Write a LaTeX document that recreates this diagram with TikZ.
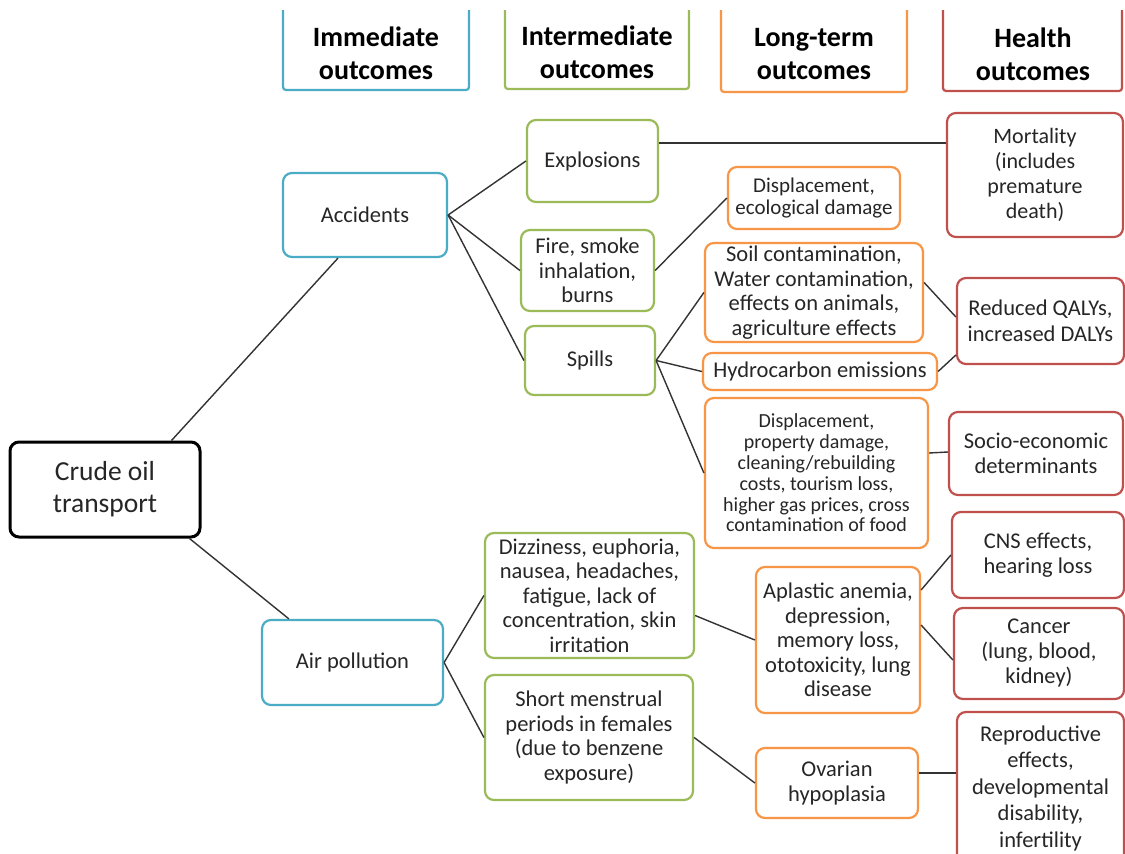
\documentclass[tikz,border=0pt]{standalone}
\usepackage{fontspec}
\setmainfont{Carlito}
\usetikzlibrary{calc}
\definecolor{aquac}{HTML}{4BACC6}
\definecolor{greenc}{HTML}{9BBB59}
\definecolor{orangec}{HTML}{F79646}
\definecolor{redc}{HTML}{C0504D}
\definecolor{textc}{HTML}{262626}
\definecolor{linec}{HTML}{333333}
\tikzset{
  bx/.style={draw, rounded corners=9pt, line width=2.2pt, align=center, inner sep=0pt,
    text=textc, font=\fontsize{22.5}{24.5}\selectfont},
  imm/.style={bx, draw=aquac},
  inter/.style={bx, draw=greenc},
  longt/.style={bx, draw=orangec},
  health/.style={bx, draw=redc},
  hdr/.style={align=center, inner sep=0pt, text=black, font=\fontsize{28}{33}\selectfont\bfseries},
  hline/.style={line width=2.2pt, rounded corners=3pt},
  conn/.style={draw=linec, line width=1.4pt},
}
\begin{document}
\begin{tikzpicture}[x=1pt,y=-1pt]
\clip (0,0) rectangle (1125,854);
\fill[white] (0,0) rectangle (1125,854);
% headers
\draw[hline, aquac] (283,10) |- (469,90) -- (469,10);
\node[hdr] (himm) at (376,53) {Immediate\\outcomes};
\draw[hline, greenc] (505,10) |- (689,89) -- (689,10);
\node[hdr] (hint) at (597,52) {Intermediate\\outcomes};
\draw[hline, orangec] (721,10) |- (907,92) -- (907,10);
\node[hdr] (hlong) at (814,54) {Long-term\\outcomes};
\draw[hline, redc] (943,10) |- (1122,91) -- (1122,10);
\node[hdr] (hhea) at (1033,54) {Health\\outcomes};
% root
\node[bx, draw=black, line width=3pt, text=textc, minimum width=190, minimum height=95,
  font=\fontsize{27.5}{32}\selectfont] (crude) at (105,489.5) {Crude oil\\transport};
% immediate
\node[imm, minimum width=164, minimum height=84] (acc) at (365,215) {Accidents};
\node[imm, minimum width=181, minimum height=85] (air) at (352.5,662.5) {Air pollution};
% intermediate
\node[inter, minimum width=131, minimum height=82] (expl) at (592.5,161) {Explosions};
\node[inter, minimum width=133, minimum height=81] (fire) at (587.5,270.5) {Fire, smoke\\inhalation,\\burns};
\node[inter, minimum width=130, minimum height=69] (spills) at (590,360.5) {Spills};
\node[inter, minimum width=209, minimum height=125] (dizz) at (589.5,595.5) {Dizziness, euphoria,\\nausea, headaches,\\fatigue, lack of\\concentration, skin\\irritation};
\node[inter, minimum width=208, minimum height=125] (shortm) at (589,737.5) {Short menstrual\\periods in females\\(due to benzene\\exposure)};
% long-term
\node[longt, minimum width=172, minimum height=62, font=\fontsize{21}{22}\selectfont] (dispeco) at (814,198) {Displacement,\\ecological damage};
\node[longt, minimum width=218, minimum height=99] (soil) at (814,292.5) {Soil contamination,\\Water contamination,\\effects on animals,\\agriculture effects};
\node[longt, minimum width=234, minimum height=37] (hydro) at (820,371.5) {Hydrocarbon emissions};
\node[longt, minimum width=223, minimum height=150, font=\fontsize{20}{20.8}\selectfont] (dispprop) at (816.5,473) {Displacement,\\property damage,\\cleaning/rebuilding\\costs, tourism loss,\\higher gas prices, cross\\contamination of food};
\node[longt, minimum width=164, minimum height=146] (aplastic) at (838,640) {Aplastic anemia,\\depression,\\memory loss,\\ototoxicity, lung\\disease};
\node[longt, minimum width=162, minimum height=70] (ovarian) at (837,783) {Ovarian\\hypoplasia};
% health
\node[health, minimum width=176, minimum height=124, font=\fontsize{22}{25}\selectfont] (mort) at (1035,175) {Mortality\\(includes\\premature\\death)};
\node[health, minimum width=167, minimum height=86, font=\fontsize{22.5}{26}\selectfont] (qaly) at (1040.5,321) {Reduced QALYs,\\increased DALYs};
\node[health, minimum width=174, minimum height=83, font=\fontsize{22.5}{25}\selectfont] (socio) at (1036,453.5) {Socio-economic\\determinants};
\node[health, minimum width=172, minimum height=86] (cns) at (1038,555) {CNS effects,\\hearing loss};
\node[health, minimum width=170, minimum height=91, font=\fontsize{22.5}{25}\selectfont] (cancer) at (1039,653.5) {Cancer\\(lung, blood,\\kidney)};
\node[health, minimum width=167, minimum height=152, font=\fontsize{22.5}{26.5}\selectfont] (repro) at (1040.5,788) {Reproductive\\effects,\\developmental\\disability,\\infertility};
% connectors
\draw[conn] ($(crude.north east)+(-30,0)$) -- ($(acc.south)+(-27,0)$);
\draw[conn] ($(crude.south east)+(-12,0)$) -- ($(air.north west)+(28,0)$);
\draw[conn] (acc.east) -- (expl.west);
\draw[conn] (acc.east) -- (fire.west);
\draw[conn] (acc.east) -- (spills.west);
\draw[conn] ($(expl.east)+(0,-18)$) -- ($(mort.west)+(0,-32)$);
\draw[conn] (fire.east) -- (dispeco.west);
\draw[conn] (spills.east) -- (soil.west);
\draw[conn] (spills.east) -- (hydro.west);
\draw[conn] (spills.east) -- (dispprop.west);
\draw[conn] ($(soil.east)+(0,-10)$) -- ($(qaly.west)+(0,-4)$);
\draw[conn] (hydro.east) -- ($(qaly.west)+(0,34)$);
\draw[conn] ($(dispprop.east)+(0,-20)$) -- ($(socio.west)+(0,-1.5)$);
\draw[conn] (air.east) -- (dizz.west);
\draw[conn] (air.east) -- (shortm.west);
\draw[conn] ($(dizz.east)+(0,20)$) -- (aplastic.west);
\draw[conn] ($(aplastic.east)+(0,-50)$) -- (cns.west);
\draw[conn] ($(aplastic.east)+(0,-15)$) -- ($(cancer.west)+(0,6.5)$);
\draw[conn] (shortm.east) -- (ovarian.west);
\draw[conn] ($(ovarian.east)+(0,-10)$) -- ($(repro.west)+(0,-15)$);
\end{tikzpicture}
\end{document}
